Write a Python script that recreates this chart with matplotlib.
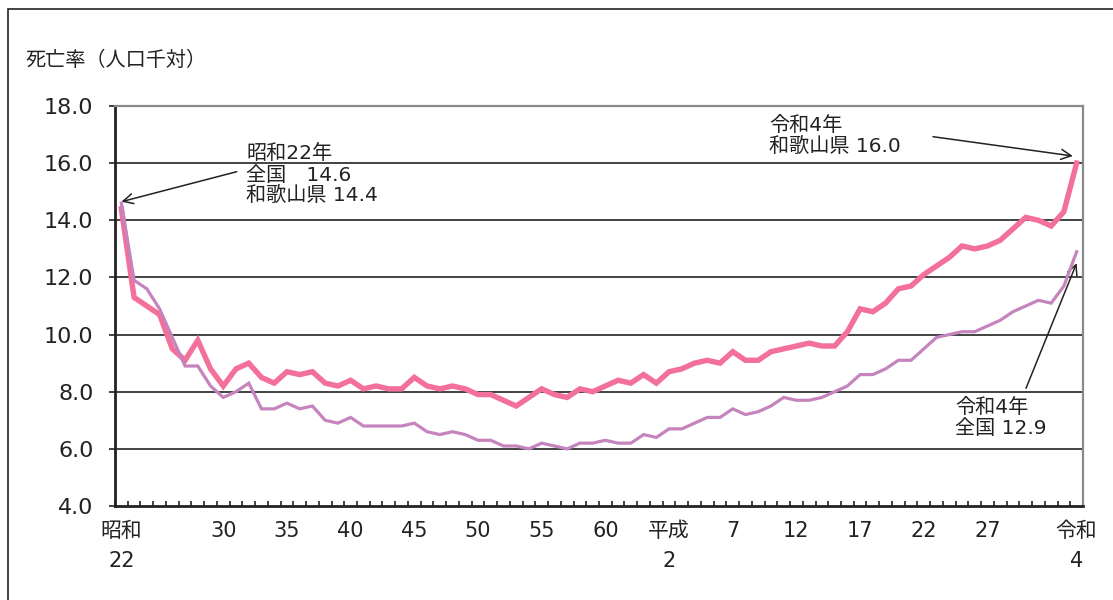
import numpy as np
import matplotlib
matplotlib.use("Agg")
import matplotlib.pyplot as plt
from matplotlib.patches import Rectangle

plt.rcParams['font.family'] = ['DejaVu Sans', 'Noto Sans CJK JP']

# 昭和22年(1947)〜令和4年(2022) の死亡率（人口千対）
n_years = 76
national = [14.6, 11.9, 11.6, 10.9, 9.9, 8.9, 8.9, 8.2, 7.8, 8.0,
            8.3, 7.4, 7.4, 7.6, 7.4, 7.5, 7.0, 6.9, 7.1, 6.8,
            6.8, 6.8, 6.8, 6.9, 6.6, 6.5, 6.6, 6.5, 6.3, 6.3,
            6.1, 6.1, 6.0, 6.2, 6.1, 6.0, 6.2, 6.2, 6.3, 6.2,
            6.2, 6.5, 6.4, 6.7, 6.7, 6.9, 7.1, 7.1, 7.4, 7.2,
            7.3, 7.5, 7.8, 7.7, 7.7, 7.8, 8.0, 8.2, 8.6, 8.6,
            8.8, 9.1, 9.1, 9.5, 9.9, 10.0, 10.1, 10.1, 10.3, 10.5,
            10.8, 11.0, 11.2, 11.1, 11.7, 12.9]
wakayama = [14.4, 11.3, 11.0, 10.7, 9.5, 9.1, 9.8, 8.8, 8.2, 8.8,
            9.0, 8.5, 8.3, 8.7, 8.6, 8.7, 8.3, 8.2, 8.4, 8.1,
            8.2, 8.1, 8.1, 8.5, 8.2, 8.1, 8.2, 8.1, 7.9, 7.9,
            7.7, 7.5, 7.8, 8.1, 7.9, 7.8, 8.1, 8.0, 8.2, 8.4,
            8.3, 8.6, 8.3, 8.7, 8.8, 9.0, 9.1, 9.0, 9.4, 9.1,
            9.1, 9.4, 9.5, 9.6, 9.7, 9.6, 9.6, 10.1, 10.9, 10.8,
            11.1, 11.6, 11.7, 12.1, 12.4, 12.7, 13.1, 13.0, 13.1, 13.3,
            13.7, 14.1, 14.0, 13.8, 14.3, 16.0]

tick_index = [0, 8, 13, 18, 23, 28, 33, 38, 43, 48, 53, 58, 63, 68, 75]
tick_labels = ['昭和\n22', '30', '35', '40', '45', '50', '55', '60',
               '平成\n2', '7', '12', '17', '22', '27', '令和\n4']
y_ticks = [4.0, 6.0, 8.0, 10.0, 12.0, 14.0, 16.0, 18.0]

PINK = '#F2709A'
PURPLE = '#C584BE'
TEXT = '#222222'
W, H = 1113, 600

fig = plt.figure(figsize=(W / 100, H / 100), dpi=100)

# outer frame of the figure
fig.patches.append(Rectangle((8 / W, -0.1), 1.2, 1.1 - 9 / H, transform=fig.transFigure,
                             fill=False, edgecolor=TEXT, linewidth=1.2))

ax = fig.add_axes([115 / W, (H - 506) / H, (1083 - 115) / W, 400 / H])
x = np.arange(n_years)

ax.plot(x, wakayama, color=PINK, linewidth=3.9, solid_joinstyle='miter', zorder=3)
ax.plot(x, national, color=PURPLE, linewidth=2.3, solid_joinstyle='miter', zorder=4)

ax.set_xlim(-0.5, n_years - 0.5)
ax.set_ylim(y_ticks[0], y_ticks[-1])
ax.set_yticks(y_ticks)
ax.set_yticklabels([f'{v:.1f}' for v in y_ticks], fontsize=16, color=TEXT)
ax.tick_params(axis='y', direction='out', length=4.5, width=1.2, pad=11, color=TEXT)

ax.set_xticks(tick_index)
ax.set_xticklabels(tick_labels, fontsize=15, color=TEXT, linespacing=1.6)
ax.tick_params(axis='x', which='major', length=0, pad=11)
ax.set_xticks(np.arange(-0.5, n_years, 1), minor=True)
ax.tick_params(axis='x', which='minor', direction='in', length=3.5, width=1.2, color=TEXT)

for v in y_ticks[1:-1]:
    ax.axhline(v, color=TEXT, linewidth=1.2, zorder=1)

for side in ('left', 'bottom'):
    ax.spines[side].set_color(TEXT)
    ax.spines[side].set_linewidth(2.0)
for side in ('top', 'right'):
    ax.spines[side].set_color('#8a8a8a')
    ax.spines[side].set_linewidth(1.6)

# axis caption
fig.text(25 / W, 1 - 60 / H, '死亡率（人口千対）', fontsize=14.5, color=TEXT,
         ha='left', va='center')


def px(xp, yp):
    return xp / W, 1 - yp / H


arrow = dict(arrowstyle='->', color=TEXT, lw=1.1, shrinkA=0, shrinkB=0,
             mutation_scale=18)
note = dict(fontsize=14.5, color=TEXT, va='center')

# 昭和22年
ax.annotate('', xy=(0, national[0] + 0.05), xycoords='data',
            xytext=(236.7, H - 171.7), textcoords='figure pixels', arrowprops=arrow)
fig.text(*px(246, 154), '昭和22年', **note)
fig.text(*px(246, 175), '全国　14.6', **note)
fig.text(*px(246, 195), '和歌山県 14.4', **note)

# 令和4年 和歌山県
last = n_years - 1
ax.annotate('', xy=(last - 0.3, wakayama[-1] + 0.25), xycoords='data',
            xytext=(933, H - 136.7), textcoords='figure pixels', arrowprops=arrow)
fig.text(*px(769, 125), '令和4年', **note)
fig.text(*px(769, 146), '和歌山県 16.0', **note)

# 令和4年 全国
ax.annotate('', xy=(last, national[-1] - 0.4), xycoords='data',
            xytext=(1026, H - 388.3), textcoords='figure pixels', arrowprops=arrow)
fig.text(*px(955, 407), '令和4年', **note)
fig.text(*px(955, 428), '全国 12.9', **note)

fig.savefig('out.png', dpi=100)
